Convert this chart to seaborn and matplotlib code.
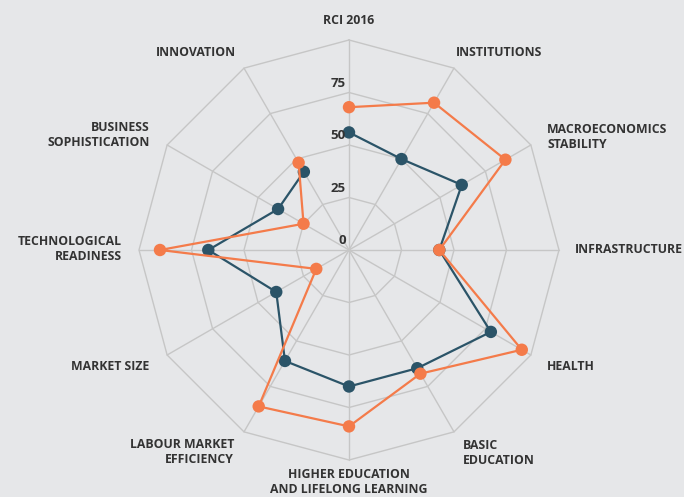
import numpy as np
import pandas as pd
import matplotlib
matplotlib.use('Agg')
import matplotlib.pyplot as plt
import seaborn as sns

# ── Data ──────────────────────────────────────────────────────
categories = ['RCI 2016', 'INSTITUTIONS', 'MACROECONOMICS\nSTABILITY', 'INFRASTRUCTURE',
              'HEALTH', 'BASIC\nEDUCATION', 'HIGHER EDUCATION\nAND LIFELONG LEARNING',
              'LABOUR MARKET\nEFFICIENCY', 'MARKET SIZE', 'TECHNOLOGICAL\nREADINESS',
              'BUSINESS\nSOPHISTICATION', 'INNOVATION']
region_a = [56, 50, 62, 43, 78, 65, 65, 61, 40, 67, 39, 43]   # dark teal
region_b = [68, 81, 86, 43, 95, 68, 84, 86, 18, 90, 25, 48]   # orange
ring_ticks = [0, 25, 50, 75]
ring_levels = [25, 50, 75, 100]

BG = '#e6e7e9'
TEAL = '#2b5468'
ORANGE = '#f47b4a'
GRID = '#c6c6c6'
TXT = '#333333'

sns.set_style('white')
plt.rcParams['font.family'] = ['Open Sans', 'DejaVu Sans']

n = len(categories)
angles = np.arange(n) * 2 * np.pi / n      # clockwise from top


def to_xy(vals):
    v = np.asarray(vals, dtype=float)
    return v * np.sin(angles), v * np.cos(angles)


fig = plt.figure(figsize=(6.84, 4.97), dpi=100, facecolor=BG)
ax = fig.add_axes([0, 0, 1, 1])
ax.set_facecolor(BG)
# center at pixel (349, 250), 100 units = 210 px
scale = 2.1
xlim = (-349 / scale, (684 - 349) / scale)
ylim = (-(497 - 250) / scale, 250 / scale)

# ── Polygon grid ──────────────────────────────────────────────
for lvl in ring_levels:
    gx, gy = to_xy([lvl] * n)
    ax.plot(np.append(gx, gx[0]), np.append(gy, gy[0]), color=GRID, lw=1, zorder=1)
for a in angles:
    ax.plot([0, 100 * np.sin(a)], [0, 100 * np.cos(a)], color=GRID, lw=1, zorder=1)

for t in ring_ticks:
    ax.text(-1.5, t + 4.3, str(t), ha='right', va='center', fontsize=9.5,
            fontweight='bold', color=TXT, zorder=5)

# ── Series ────────────────────────────────────────────────────
for vals, col, z in [(region_a, TEAL, 3), (region_b, ORANGE, 4)]:
    x, y = to_xy(vals)
    df = pd.DataFrame({'x': np.append(x, x[0]), 'y': np.append(y, y[0])})
    sns.lineplot(data=df, x='x', y='y', sort=False, color=col, lw=1.6, ax=ax, zorder=z)
    sns.scatterplot(data=df.iloc[:-1], x='x', y='y', color=col, s=80, edgecolor='none',
                    ax=ax, zorder=z)
ax.set_xlim(*xlim)
ax.set_ylim(*ylim)
ax.axis('off')

# ── Category labels (pixel positions -> data) ─────────────────
def px(xp, yp):
    return (xp - 349) / scale, (250 - yp) / scale

label_pos = [
    (349, 21, 'center'), (456, 53, 'left'), (547, 137, 'left'), (575, 250, 'left'),
    (547, 367, 'left'), (463, 453, 'left'), (349, 482, 'center'), (234, 452, 'right'),
    (149, 367, 'right'), (122, 249, 'right'), (150, 135, 'right'), (236, 53, 'right'),
]
for lab, (xp, yp, ha) in zip(categories, label_pos):
    tx, ty = px(xp, yp)
    ax.text(tx, ty, lab, ha=ha, va='center', multialignment=ha, fontsize=8.8,
            fontweight='bold', color=TXT, linespacing=1.2)

fig.savefig('out.png', dpi=100, facecolor=BG)
